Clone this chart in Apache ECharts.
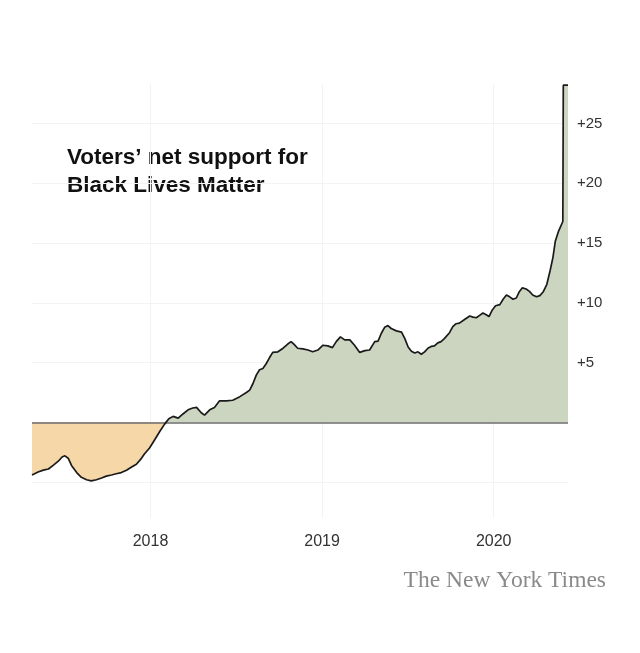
<!DOCTYPE html>
<html>
<head>
<meta charset="utf-8">
<script src="https://cdn.jsdelivr.net/npm/echarts@6/dist/echarts.min.js"></script>
<style>
  html, body { margin: 0; padding: 0; background: #fff; }
  #chart { width: 640px; height: 653px; }
</style>
</head>
<body>
<div id="chart"></div>
<script>
// net support (support minus oppose)
const dates = [
  '2017-04-24', '2017-05-07', '2017-05-18', '2017-05-29', '2017-06-08', '2017-06-19',
  '2017-06-27', '2017-07-03', '2017-07-10', '2017-07-17', '2017-07-28', '2017-08-07',
  '2017-08-18', '2017-08-28', '2017-09-08', '2017-09-19', '2017-09-29', '2017-10-10',
  '2017-10-20', '2017-10-31', '2017-11-11', '2017-11-21', '2017-12-02', '2017-12-11',
  '2017-12-19', '2017-12-30', '2018-01-10', '2018-01-21', '2018-01-31', '2018-02-09',
  '2018-02-18', '2018-03-01', '2018-03-11', '2018-03-22', '2018-04-01', '2018-04-09',
  '2018-04-19', '2018-04-26', '2018-05-07', '2018-05-17', '2018-05-28', '2018-06-11',
  '2018-06-25', '2018-07-10', '2018-07-24', '2018-07-31', '2018-08-07', '2018-08-14',
  '2018-08-21', '2018-08-28', '2018-09-04', '2018-09-11', '2018-09-18', '2018-09-29',
  '2018-10-10', '2018-10-20', '2018-10-27', '2018-11-03', '2018-11-10', '2018-11-21',
  '2018-12-02', '2018-12-12', '2018-12-23', '2019-01-03', '2019-01-13', '2019-01-23',
  '2019-01-31', '2019-02-09', '2019-02-18', '2019-03-01', '2019-03-11', '2019-03-22',
  '2019-04-02', '2019-04-12', '2019-04-23', '2019-04-30', '2019-05-07', '2019-05-14',
  '2019-05-21', '2019-05-28', '2019-06-08', '2019-06-19', '2019-06-26', '2019-07-03',
  '2019-07-10', '2019-07-17', '2019-07-24', '2019-07-31', '2019-08-07', '2019-08-14',
  '2019-08-21', '2019-08-28', '2019-09-04', '2019-09-11', '2019-09-18', '2019-09-29',
  '2019-10-06', '2019-10-13', '2019-10-20', '2019-10-31', '2019-11-11', '2019-11-18',
  '2019-11-25', '2019-12-02', '2019-12-09', '2019-12-16', '2019-12-22', '2019-12-29',
  '2020-01-05', '2020-01-14', '2020-01-21', '2020-01-28', '2020-02-04', '2020-02-11',
  '2020-02-18', '2020-02-24', '2020-03-02', '2020-03-10', '2020-03-17', '2020-03-24',
  '2020-04-01', '2020-04-08', '2020-04-15', '2020-04-23', '2020-04-30', '2020-05-06',
  '2020-05-11', '2020-05-18', '2020-05-27', '2020-05-28', '2020-06-07'
];
const netSupport = [
  -4.4, -4.15, -4.0, -3.9, -3.6, -3.25,
  -2.9, -2.8, -3.0, -3.6, -4.2, -4.6,
  -4.8, -4.9, -4.8, -4.65, -4.5, -4.4,
  -4.3, -4.2, -4.0, -3.75, -3.5, -3.1,
  -2.65, -2.15, -1.45, -0.75, -0.15, 0.3,
  0.5, 0.35, 0.7, 1.05, 1.2, 1.25,
  0.8, 0.6, 1.05, 1.25, 1.8, 1.8,
  1.85, 2.15, 2.5, 2.7, 3.25, 3.95,
  4.4, 4.5, 4.9, 5.4, 5.85, 5.9,
  6.2, 6.55, 6.75, 6.5, 6.2, 6.15,
  6.05, 5.9, 6.05, 6.45, 6.4, 6.25,
  6.75, 7.15, 6.9, 6.9, 6.45, 5.85,
  6.0, 6.05, 6.75, 6.8, 7.45, 7.95,
  8.1, 7.85, 7.65, 7.55, 7.0, 6.3,
  5.95, 5.8, 5.9, 5.7, 5.9, 6.2,
  6.35, 6.4, 6.65, 6.75, 7.0, 7.5,
  8.0, 8.25, 8.3, 8.6, 8.9, 8.8,
  8.75, 8.95, 9.15, 9.0, 8.85, 9.4,
  9.75, 9.85, 10.3, 10.65, 10.5, 10.3,
  10.4, 10.9, 11.25, 11.15, 10.95, 10.65,
  10.5, 10.6, 10.9, 11.55, 12.7, 13.8,
  15.15, 16.0, 16.8, 28.2, 28.2
];
const yTicks = [-5, 5, 10, 15, 20, 25];

const GREEN = '#ccd5c0';
const TAN = '#f6d7a8';
const GRID = '#f3f3f3';
const FONT = '"Liberation Sans", Arial, sans-serif';

const lineData = dates.map((d, i) => [d, netSupport[i]]);
// split into the part above zero and the part below zero for the two fills
const supportData = dates.map((d, i) => [d, Math.max(netSupport[i], 0)]);
const opposeData = dates.map((d, i) => [d, Math.min(netSupport[i], 0)]);

const chart = echarts.init(document.getElementById('chart'), null, { renderer: 'canvas' });

function fillSeries(data, color) {
  return {
    type: 'line',
    data: data,
    symbol: 'none',
    silent: true,
    lineStyle: { width: 0, opacity: 0 },
    areaStyle: { color: color, opacity: 1, origin: 0 },
    z: 1
  };
}

chart.setOption({
  backgroundColor: '#fff',
  animation: false,
  grid: { left: 32, right: 72, top: 84, bottom: 135, outerBoundsMode: 'none' },
  xAxis: {
    type: 'time',
    min: dates[0],
    max: dates[dates.length - 1],
    minInterval: 365 * 24 * 3600 * 1000,
    axisLine: { show: false },
    axisTick: { show: false },
    axisLabel: {
      color: '#333',
      fontSize: 16,
      fontFamily: FONT,
      margin: 16,
      showMinLabel: false,
      showMaxLabel: false,
      formatter: function (val) {
        const d = new Date(val);
        return (d.getMonth() === 0 && d.getDate() === 1) ? String(d.getFullYear()) : '';
      }
    },
    splitLine: {
      show: true,
      showMinLine: false,
      showMaxLine: false,
      lineStyle: { color: GRID, width: 1 }
    }
  },
  yAxis: {
    type: 'value',
    position: 'right',
    min: -8,
    max: 28.3,
    minInterval: 5,
    maxInterval: 5,
    axisLine: { show: false },
    axisTick: { show: false },
    axisLabel: {
      color: '#333',
      fontSize: 15,
      fontFamily: FONT,
      margin: 9,
      formatter: function (v) {
        return (v > 0 && yTicks.indexOf(v) >= 0) ? '+' + v : '';
      }
    },
    splitLine: {
      show: true,
      showMinLine: false,
      showMaxLine: false,
      lineStyle: { color: GRID, width: 1 }
    }
  },
  series: [
    fillSeries(supportData, GREEN),
    fillSeries(opposeData, TAN),
    {
      type: 'line',
      data: lineData,
      symbol: 'none',
      silent: true,
      lineStyle: { color: '#1a1a1a', width: 1.7 },
      z: 3,
      markLine: {
        silent: true,
        symbol: 'none',
        label: { show: false },
        lineStyle: { color: '#6b6b6b', width: 1.5, type: 'solid' },
        data: [{ yAxis: 0 }],
        z: 2
      }
    }
  ],
  graphic: [
    {
      type: 'text', left: 67, top: 146,
      style: { text: 'Voters’ net support for', font: 'bold 22.5px ' + FONT, fill: '#111' }
    },
    {
      type: 'text', left: 67, top: 174,
      style: { text: 'Black Lives Matter', font: 'bold 22.5px ' + FONT, fill: '#111' }
    },
    {
      type: 'text', left: 369, top: 390,
      style: { text: 'Support', font: '17px ' + FONT, fill: '#333' }
    },
    {
      type: 'text', left: 40, top: 429,
      style: { text: 'Don’t support', font: '17px ' + FONT, fill: '#333' }
    },
    {
      type: 'text', right: 34, top: 569,
      style: { text: 'The New York Times', font: '23.5px "Liberation Serif", "Times New Roman", serif', fill: '#8a8a8a' }
    }
  ]
});
</script>
</body>
</html>
